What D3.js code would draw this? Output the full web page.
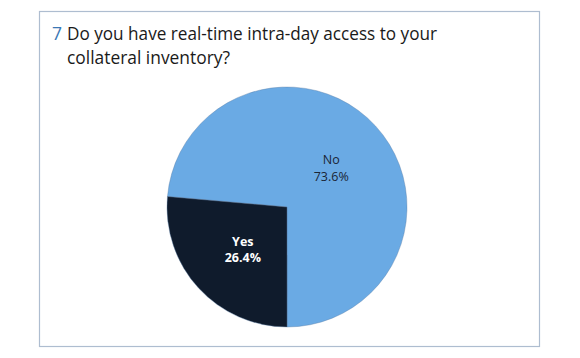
<!DOCTYPE html>
<html><head><meta charset="utf-8">
<script src="https://cdn.jsdelivr.net/npm/d3@7"></script>
<style>html,body{margin:0;padding:0;background:#fff;}</style>
</head><body>
<svg id="chart" width="580" height="358"></svg>
<script>
const categories = ["No", "Yes"];
const values = [73.6, 26.4];
const valueLabels = ["73.6%", "26.4%"];
const colors = ["#6aaae4", "#0f1b2c"];
const labelColors = ["#1a2535", "#ffffff"];
const labelWeights = ["normal", "bold"];
const titleNumber = "7";
const titleLines = ["Do you have real-time intra-day access to your", "collateral inventory?"];

const svg = d3.select("#chart");
svg.append("rect").attr("x", 39.5).attr("y", 11.5).attr("width", 500).attr("height", 335)
  .attr("fill", "#fff").attr("stroke", "#aebdd0").attr("stroke-width", 1.2);

const font = "'Open Sans', 'Noto Sans', sans-serif";
const titleWidths = [370, 163];
svg.append("text").attr("x", 52).attr("y", 40).attr("font-family", font).attr("font-size", 18)
  .attr("textLength", 10).attr("lengthAdjust", "spacingAndGlyphs")
  .attr("fill", "#3b78b5").text(titleNumber);
titleLines.forEach((t, i) => {
  svg.append("text").attr("x", 67).attr("y", 40 + i * 23.5).attr("font-family", font)
    .attr("font-size", 18).attr("fill", "#1a1a1a")
    .attr("textLength", titleWidths[i]).attr("lengthAdjust", "spacingAndGlyphs").text(t);
});

const cx = 287, cy = 207, R = 120;
const rotation = -85 * Math.PI / 180;
const pie = d3.pie().sort(null).startAngle(rotation).endAngle(rotation + 2 * Math.PI);
const arcs = pie(values);
const arc = d3.arc().innerRadius(0).outerRadius(R);
const g = svg.append("g").attr("transform", `translate(${cx},${cy})`);
g.selectAll("path").data(arcs).enter().append("path")
  .attr("d", arc).attr("fill", (d, i) => colors[i])
  .attr("stroke", "#5b7fa6").attr("stroke-width", 0.4);

arcs.forEach((d, i) => {
  const [x, y] = arc.centroid(d);
  const common = sel => sel.attr("text-anchor", "middle").attr("font-family", font)
    .attr("font-size", 12.5).attr("fill", labelColors[i]).attr("font-weight", labelWeights[i]);
  g.append("text").attr("x", x).attr("y", y - 2).call(common).text(categories[i]);
  g.append("text").attr("x", x).attr("y", y + 14.5).call(common).text(valueLabels[i]);
});
</script>
</body></html>
